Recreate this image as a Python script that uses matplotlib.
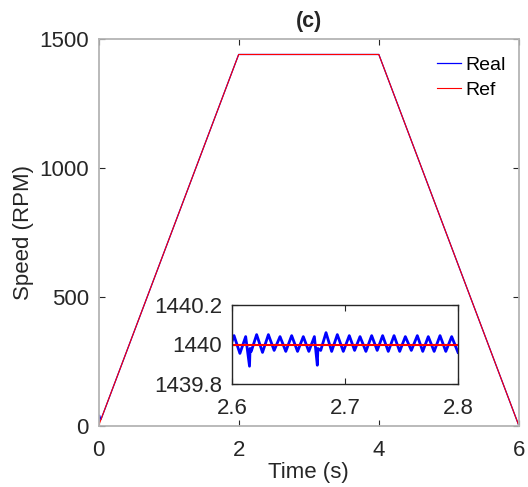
import matplotlib
matplotlib.use("Agg")
import matplotlib.pyplot as plt

# ---- data ----
main_time = [0, 2, 4, 6]
ref_speed = [0, 1440, 1440, 0]
real_time = [0, 0.015, 0.035, 2, 4, 6]
real_speed = [0, 42, 25, 1440, 1440, 0]

inset_time = [2.6000, 2.6018, 2.6070, 2.6121, 2.6155, 2.6160, 2.6170, 2.6218, 2.6270,
              2.6322, 2.6373, 2.6425, 2.6476, 2.6528, 2.6580, 2.6631, 2.6680, 2.6729,
              2.6755, 2.6760, 2.6785, 2.6832, 2.6882, 2.6932, 2.6985, 2.7038, 2.7085,
              2.7133, 2.7185, 2.7236, 2.7285, 2.7333, 2.7383, 2.7434, 2.7484, 2.7534,
              2.7587, 2.7640, 2.7688, 2.7737, 2.7789, 2.7841, 2.7892, 2.7944, 2.8000]
inset_real = [1440.015, 1440.045, 1439.955, 1440.040, 1439.890, 1439.980, 1439.965,
              1440.050, 1439.960, 1440.050, 1439.970, 1440.040, 1439.965, 1440.045,
              1439.965, 1440.040, 1439.965, 1440.040, 1439.895, 1439.980, 1439.970,
              1440.060, 1439.965, 1440.050, 1439.965, 1440.045, 1439.970, 1440.040,
              1439.965, 1440.045, 1439.970, 1440.045, 1439.965, 1440.045, 1439.965,
              1440.040, 1439.970, 1440.045, 1439.965, 1440.040, 1439.965, 1440.045,
              1439.965, 1440.040, 1439.960]
inset_ref_time = [2.6, 2.8]
inset_ref = [1440, 1440]

x_ticks = [0, 2, 4, 6]
y_ticks = [0, 500, 1000, 1500]
inset_x_ticks = [2.6, 2.7, 2.8]
inset_y_ticks = [1439.8, 1440, 1440.2]
inset_y_labels = ["1439.8", "1440", "1440.2"]

# ---- style ----
plt.rcParams['font.family'] = ['Liberation Sans', 'DejaVu Sans']
dark = '#262626'
W, H = 528, 487
fig = plt.figure(figsize=(W / 100, H / 100), dpi=100)

ax = fig.add_axes([98.5 / W, (H - 426) / H, (519 - 98.5) / W, (426 - 39) / H])
ax.plot(real_time, real_speed, color='#0000ff', lw=0.9, label='Real')
ax.plot(main_time, ref_speed, color='#ff0000', lw=0.8, label='Ref')
ax.set_xlim(0, 6)
ax.set_ylim(0, 1500)
ax.set_xticks(x_ticks)
ax.set_yticks(y_ticks)
ax.tick_params(direction='in', length=4, width=0.8, colors=dark, labelsize=16,
               top=True, right=True, pad=7)
ax.tick_params(axis='x', pad=10)
for s in ax.spines.values():
    s.set_color('#b4b4b4')
    s.set_linewidth(1.3)
ax.set_xlabel('Time (s)', fontsize=16, color=dark, labelpad=1)
ax.set_ylabel('Speed (RPM)', fontsize=16, color=dark, labelpad=4)
ax.set_title('(c)', fontsize=15.5, fontweight='bold', color=dark, pad=9)
leg = ax.legend(loc='upper right', frameon=False, fontsize=14, handlelength=1.25,
                handletextpad=0.2, labelspacing=0.35, borderaxespad=0.3,
                bbox_to_anchor=(1.0, 0.99))
for t in leg.get_texts():
    t.set_color('black')

ins = fig.add_axes([232 / W, (H - 384) / H, (458 - 232) / W, (384 - 305) / H])
ins.plot(inset_time, inset_real, color='#0000ff', lw=2.0)
ins.plot(inset_ref_time, inset_ref, color='#ff0000', lw=1.5)
ins.set_xlim(2.6, 2.8)
ins.set_ylim(1439.8, 1440.2)
ins.set_xticks(inset_x_ticks)
ins.set_yticks(inset_y_ticks)
ins.set_yticklabels(inset_y_labels)
ins.tick_params(direction='in', length=4, width=0.8, colors=dark, labelsize=16,
                top=True, right=True, pad=7)
ins.tick_params(axis='x', pad=10)
for s in ins.spines.values():
    s.set_color(dark)
    s.set_linewidth(1.0)

fig.savefig('out.png', dpi=100)
